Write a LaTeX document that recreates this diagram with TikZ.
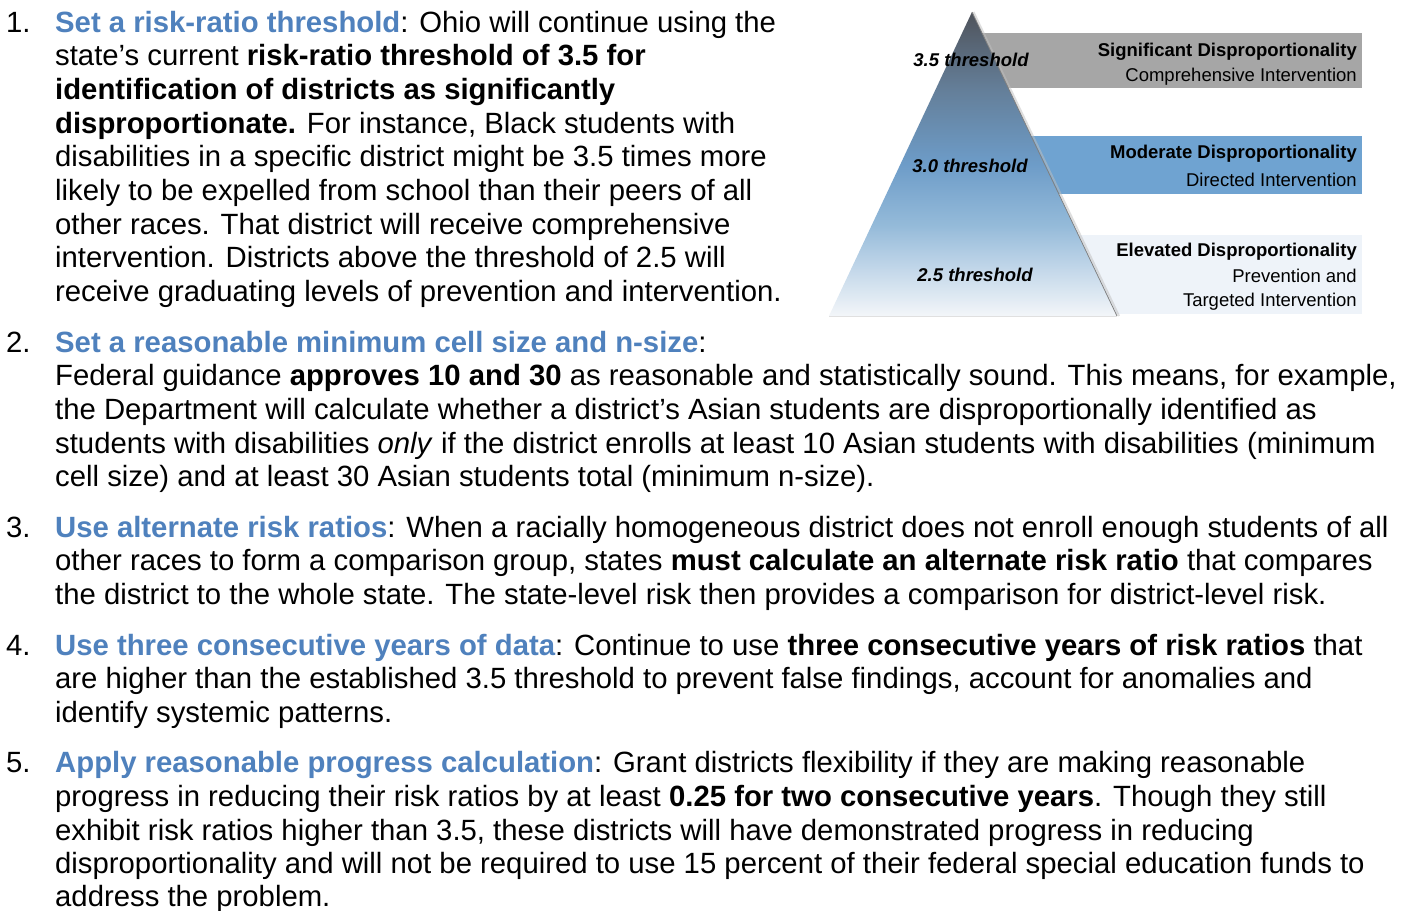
\documentclass[tikz,border=0pt]{standalone}
\usepackage{fontspec}
\setmainfont{Liberation Sans}
\usetikzlibrary{calc}
\definecolor{hblue}{HTML}{4F81BD}
\definecolor{bandgray}{HTML}{A6A6A6}
\definecolor{bandblue}{HTML}{6FA3D1}
\definecolor{bandlight}{HTML}{EEF3F9}
\definecolor{pyA}{HTML}{F3F6F9}
\definecolor{pyB}{HTML}{C4D8EA}
\definecolor{pyC}{HTML}{94BAD9}
\definecolor{pyD}{HTML}{6D9CC8}
\definecolor{pyE}{HTML}{647E98}
\definecolor{pyF}{HTML}{4F535B}
\pgfdeclareverticalshading{pyr}{100bp}{color(0bp)=(pyA); color(25bp)=(pyA); color(32.5bp)=(pyB); color(40bp)=(pyC); color(50bp)=(pyD); color(62.5bp)=(pyE); color(75bp)=(pyF); color(100bp)=(pyF)}
\newcommand\hd[1]{\textcolor{hblue}{\bfseries #1}}
\begin{document}
\begin{tikzpicture}[x=1pt,y=-1pt,
  txt/.style={anchor=base west, inner sep=0pt, font=\fontsize{29.3}{34}\selectfont},
  thr/.style={anchor=base, inner sep=0pt, font=\fontsize{18.5}{22}\selectfont\bfseries\itshape},
  bandbold/.style={anchor=base east, inner sep=0pt, font=\fontsize{18.5}{22}\selectfont\bfseries},
  bandreg/.style={anchor=base east, inner sep=0pt, font=\fontsize{18.5}{22}\selectfont}]
\useasboundingbox (0,0) rectangle (1412,910);
\fill[white] (0,0) rectangle (1412,910);
% ---- pyramid graphic ----
\coordinate (apex) at (972,12);
\coordinate (bl) at (829,316);
\coordinate (br) at (1117,316);
\fill[bandgray] (972,33) rectangle (1362,88);
\fill[bandblue] (972,136) rectangle (1362,194);
\fill[bandlight] (972,235) rectangle (1362,314);
\draw[line width=2pt, black!25, opacity=0.5] ($(apex)+(1.5,0)$) -- ($(br)+(2,0)$);
\shade[shading=pyr] (apex) -- (br) -- (bl) -- cycle;
\draw[black!50, line width=0.8pt] (apex) -- (br);
\draw[black!12, line width=0.8pt] (bl) -- (br);
\node[thr] (t35) at (971,66) {3.5 threshold};
\node[thr] (t30) at (970,172) {3.0 threshold};
\node[thr] (t25) at (975,281) {2.5 threshold};
\node[bandbold] (b1a) at (1357,56) {Significant Disproportionality};
\node[bandreg] (b1b) at (1357,81) {Comprehensive Intervention};
\node[bandbold] (b2a) at (1357,158) {Moderate Disproportionality};
\node[bandreg] (b2b) at (1357,186) {Directed Intervention};
\node[bandbold] (b3a) at (1357,256) {Elevated Disproportionality};
\node[bandreg] (b3b) at (1357,282) {Prevention and};
\node[bandreg] (b3c) at (1357,306) {Targeted Intervention};
% ---- item 1 ----
\node[txt] (n1) at (6,32) {1.};
\node[txt] (a1) at (55,32) {\hd{Set a risk-ratio threshold}: Ohio will continue using the};
\node[txt] (a2) at (55,65.7) {state’s current \textbf{risk-ratio threshold of 3.5 for}};
\node[txt] (a3) at (55,99.4) {\textbf{identification of districts as significantly}};
\node[txt] (a4) at (55,133.1) {\textbf{disproportionate.} For instance, Black students with};
\node[txt] (a5) at (55,166.8) {disabilities in a specific district might be 3.5 times more};
\node[txt] (a6) at (55,200.5) {likely to be expelled from school than their peers of all};
\node[txt] (a7) at (55,234.2) {other races. That district will receive comprehensive};
\node[txt] (a8) at (55,267.9) {intervention. Districts above the threshold of 2.5 will};
\node[txt] (a9) at (55,301.6) {receive graduating levels of prevention and intervention.};
% ---- item 2 ----
\node[txt] (n2) at (6,352) {2.};
\node[txt] (c1) at (55,352) {\hd{Set a reasonable minimum cell size and n-size}:};
\node[txt] (c2) at (55,385.7) {Federal guidance \textbf{approves 10 and 30} as reasonable and statistically sound. This means, for example,};
\node[txt] (c3) at (55,419.4) {the Department will calculate whether a district’s Asian students are disproportionally identified as};
\node[txt] (c4) at (55,453.1) {students with disabilities \textit{only} if the district enrolls at least 10 Asian students with disabilities (minimum};
\node[txt] (c5) at (55,486.8) {cell size) and at least 30 Asian students total (minimum n-size).};
% ---- item 3 ----
\node[txt] (n3) at (6,537.2) {3.};
\node[txt] (d1) at (55,537.2) {\hd{Use alternate risk ratios}: When a racially homogeneous district does not enroll enough students of all};
\node[txt] (d2) at (55,570.9) {other races to form a comparison group, states \textbf{must calculate an alternate risk ratio} that compares};
\node[txt] (d3) at (55,604.6) {the district to the whole state. The state-level risk then provides a comparison for district-level risk.};
% ---- item 4 ----
\node[txt] (n4) at (6,655) {4.};
\node[txt] (e1) at (55,655) {\hd{Use three consecutive years of data}: Continue to use \textbf{three consecutive years of risk ratios} that};
\node[txt] (e2) at (55,688.7) {are higher than the established 3.5 threshold to prevent false findings, account for anomalies and};
\node[txt] (e3) at (55,722.4) {identify systemic patterns.};
% ---- item 5 ----
\node[txt] (n5) at (6,772.8) {5.};
\node[txt] (f1) at (55,772.8) {\hd{Apply reasonable progress calculation}: Grant districts flexibility if they are making reasonable};
\node[txt] (f2) at (55,806.5) {progress in reducing their risk ratios by at least \textbf{0.25 for two consecutive years}. Though they still};
\node[txt] (f3) at (55,840.2) {exhibit risk ratios higher than 3.5, these districts will have demonstrated progress in reducing};
\node[txt] (f4) at (55,873.9) {disproportionality and will not be required to use 15 percent of their federal special education funds to};
\node[txt] (f5) at (55,906) {address the problem.};
\end{tikzpicture}
\end{document}
